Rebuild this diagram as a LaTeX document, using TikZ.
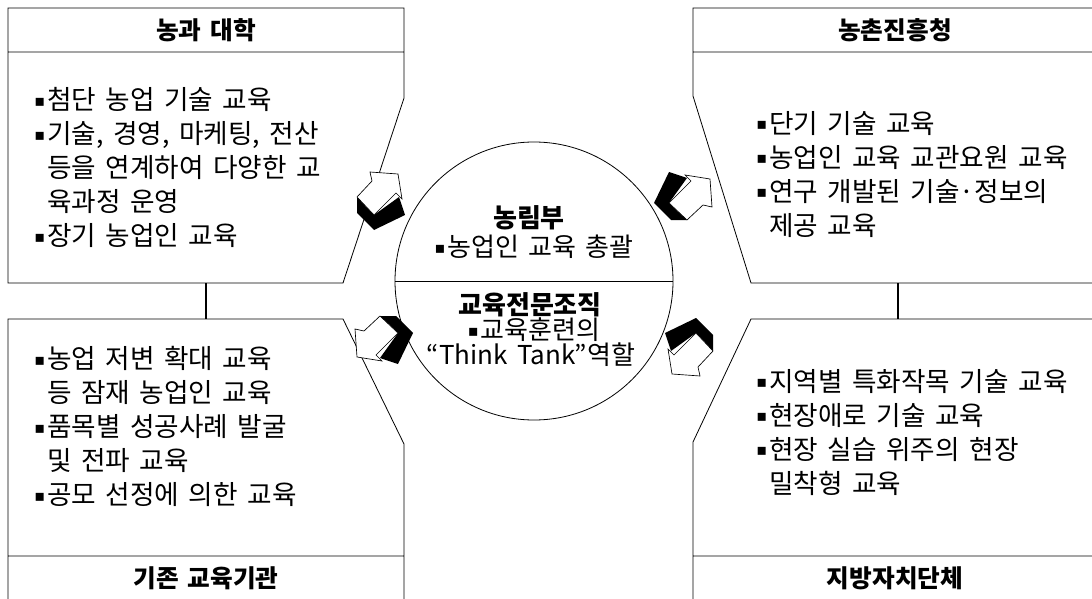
\documentclass[tikz,border=0pt]{standalone}
\usepackage{fontspec}
\newfontfamily\kr[WordSpace=1.6]{Noto Sans CJK KR}
\newfontfamily\sym{DejaVu Sans}
\newcommand\bul{\raisebox{2.5pt}{\sym\fontsize{12}{12}\selectfont ▪}\kern1.5pt}
\tikzset{frame/.style={line width=0.6pt},link/.style={line width=2.2pt},
  ttl/.style={font=\kr\bfseries\fontsize{18.5}{22}\selectfont,inner sep=0pt},
  hubttl/.style={font=\kr\bfseries\fontsize{19.5}{22}\selectfont,inner sep=0pt},
  txt/.style={font=\kr\fontsize{20}{25.5}\selectfont,align=left,anchor=north west,inner sep=0pt},
  hub/.style={draw,circle,line width=0.6pt,minimum size=208.5pt,inner sep=0pt},
  hubtxt/.style={font=\kr\fontsize{19.5}{19.5}\selectfont,inner sep=0pt},
  shade/.style={fill=black},face/.style={fill=white,draw,line width=0.5pt}}
\begin{document}
\begin{tikzpicture}[x=0.75pt,y=-0.75pt]
\useasboundingbox (0,0) rectangle (1092,599);
\draw[frame] (8,52)--(404,52) (8,8)--(404,8)--(404,98)--(343,283)--(8,283)--cycle;
\draw[frame] (693,52)--(1100,52) (1100,8)--(693,8)--(693,96)--(751,283)--(1100,283);
\draw[frame] (8,556)--(404,556) (8,605)--(8,319)--(343,319)--(404,444)--(404,605);
\draw[frame] (693,556)--(1100,556) (1100,319)--(751,319)--(693,442)--(693,605);
\node[ttl] (univ) at (206,30) {농과 대학};
\node[ttl] (rda) at (895,30) {농촌진흥청};
\node[ttl] (inst) at (206,578) {기존 교육기관};
\node[ttl] (local) at (895,578) {지방자치단체};
\coordinate (univbot) at (206,283); \coordinate (instop) at (206,319);
\coordinate (rdabot) at (898,283); \coordinate (localtop) at (898,319);
\draw[link] (univbot)--(instop); \draw[link] (rdabot)--(localtop);
\node[txt] (univtxt) at (34,87) {\bul 첨단 농업 기술 교육\\\bul 기술, 경영, 마케팅, 전산\\\hphantom{\bul}등을 연계하여 다양한 교\\\hphantom{\bul}육과정 운영\\\bul 장기 농업인 교육};
\node[txt] (rdatxt) at (756,111) {\bul 단기 기술 교육\\\bul 농업인 교육 교관요원 교육\\\bul 연구 개발된 기술·정보의\\\hphantom{\bul}제공 교육};
\node[txt] (insttxt) at (34,346) {\bul 농업 저변 확대 교육\\\hphantom{\bul}등 잠재 농업인 교육\\\bul 품목별 성공사례 발굴\\\hphantom{\bul}및 전파 교육\\\bul 공모 선정에 의한 교육};
\node[txt] (localtxt) at (756,369) {\bul 지역별 특화작목 기술 교육\\\bul 현장애로 기술 교육\\\bul 현장 실습 위주의 현장\\\hphantom{\bul}밀착형 교육};
\node[hub] (hubc) at (534,281) {};
\draw[frame] (hubc.west)--(hubc.east);
\node[hubttl] (mafra) at (529,218) {농림부};
\node[hubtxt] (mafratxt) at (534,247) {\bul 농업인 교육 총괄};
\node[hubttl] (expert) at (530,305) {교육전문조직};
\node[hubtxt] (experttxt) at (534,330) {\bul 교육훈련의};
\node[hubtxt] (thinktank) at (531,355) {“Think Tank”역할};
\fill[shade] (357,197)--(357,213)--(374,230)--(405,215)--(399,197)--(374,215)--cycle;
\filldraw[face] (357,197)--(372,181)--(370,172)--(398,174)--(402,199)--(396,193)--(374,215)--cycle;
\fill[shade] (687,220)--(671,220)--(654,203)--(669,172)--(687,178)--(669,203)--cycle;
\filldraw[face] (687,220)--(703,205)--(712,207)--(710,179)--(685,175)--(691,181)--(669,203)--cycle;
\fill[shade] (380,316)--(396,316)--(413,333)--(398,364)--(380,358)--(398,333)--cycle;
\filldraw[face] (380,316)--(364,331)--(355,329)--(357,357)--(382,361)--(376,355)--(398,333)--cycle;
\fill[shade] (713,351)--(713,335)--(696,318)--(665,333)--(671,351)--(696,333)--cycle;
\filldraw[face] (713,351)--(698,367)--(700,376)--(672,374)--(668,349)--(674,355)--(696,333)--cycle;
\end{tikzpicture}
\end{document}
